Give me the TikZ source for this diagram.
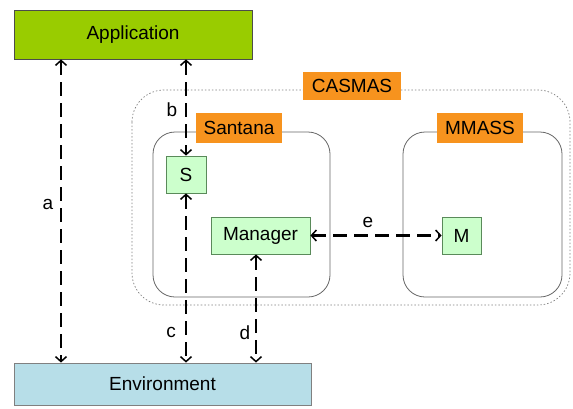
\documentclass[tikz,border=0pt]{standalone}
\usepackage{fontspec}
\setmainfont{Liberation Sans}
\usetikzlibrary{arrows.meta}
\definecolor{appgreen}{HTML}{99CC00}
\definecolor{envblue}{HTML}{B7DEE8}
\definecolor{boxgreen}{HTML}{CCFFCC}
\definecolor{boxline}{HTML}{5A8A5A}
\definecolor{orangelbl}{HTML}{F7931E}
\tikzset{
  big/.style={draw=black!70, line width=0.8pt, inner sep=0pt, font=\fontsize{19}{22}\selectfont},
  small/.style={draw=boxline, fill=boxgreen, line width=0.8pt, inner sep=0pt, font=\fontsize{19}{22}\selectfont},
  tag/.style={fill=orangelbl, inner sep=0pt, font=\fontsize{19}{22}\selectfont},
  cont/.style={draw=black!60, line width=0.8pt, rounded corners=22pt},
  flow/.style={line width=2.6pt, dash pattern=on 14pt off 7pt, {Straight Barb[length=5pt,width=11pt,line width=1.5pt]}-{Straight Barb[length=5pt,width=11pt,line width=1.5pt]}},
  lbl/.style={font=\fontsize{19}{22}\selectfont, inner sep=1pt}
}
\begin{document}
\begin{tikzpicture}[x=1pt,y=-1pt]
\useasboundingbox (0,0) rectangle (573,408);
% CASMAS container
\draw[draw=black!50, line width=0.7pt, dash pattern=on 1.5pt off 2pt, rounded corners=32pt] (132,90) rectangle (570,305);
\node[tag, minimum width=98pt, minimum height=28pt] (casmas) at (352,86) {CASMAS};
% sub containers
\draw[cont] (153,132) rectangle (330,297);
\draw[cont] (403,132) rectangle (562,297);
\node[tag, minimum width=86pt, minimum height=30pt] (santana) at (239,128) {Santana};
\node[tag, minimum width=86pt, minimum height=30pt] (mmass) at (480,128) {MMASS};
% main boxes
\node[big, fill=appgreen, minimum width=238pt, minimum height=49pt] (app) at (133,34.5) {Application};
\node[big, fill=envblue, draw=black!50, minimum width=297pt, minimum height=42pt] (env) at (162.5,384) {Environment};
\node[small, minimum width=40pt, minimum height=37pt] (S) at (186,174.5) {S};
\node[small, minimum width=99pt, minimum height=37pt] (mgr) at (260.5,235.5) {Manager};
\node[small, minimum width=39pt, minimum height=37pt] (M) at (461.5,235.5) {M};
% helper coordinates
\coordinate (ax) at (61,200);
\coordinate (dx) at (256,300);
% connectors
\draw[flow] (app.south -| ax) -- (env.north -| ax);
\draw[flow] (app.south -| S) -- (S.north);
\draw[flow] (S.south) -- (env.north -| S);
\draw[flow] (mgr.south -| dx) -- (env.north -| dx);
\draw[flow] (mgr.east) -- (M.west);
% labels
\node[lbl] (la) at (48,204) {a};
\node[lbl] (lb) at (172,110) {b};
\node[lbl] (lc) at (171,332) {c};
\node[lbl] (ld) at (245,333) {d};
\node[lbl] (le) at (368,222) {e};
\end{tikzpicture}
\end{document}
